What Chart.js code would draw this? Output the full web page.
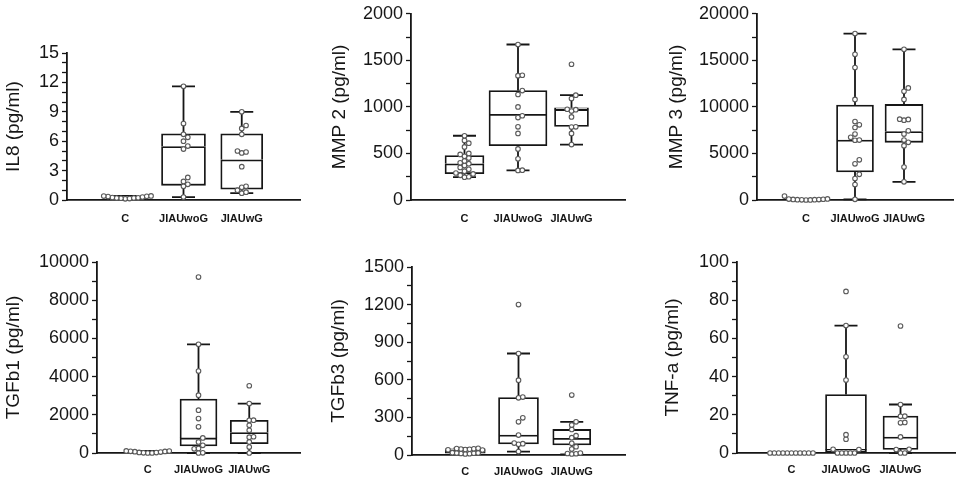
<!DOCTYPE html>
<html>
<head>
<meta charset="utf-8">
<script src="https://cdn.jsdelivr.net/npm/chart.js@4/dist/chart.umd.min.js"></script>
<style>
body{margin:0;background:#fff;width:965px;height:484px;position:relative;overflow:hidden}
canvas{position:absolute}
</style>
</head>
<body>
<canvas id="c1"></canvas>
<canvas id="c2"></canvas>
<canvas id="c3"></canvas>
<canvas id="c4"></canvas>
<canvas id="c5"></canvas>
<canvas id="c6"></canvas>
<script>
// groups on the x axis
const groups = ['C', 'JIAUwoG', 'JIAUwG'];

// box stats per group: [whisker low, q1, median, q3, whisker high]
// IL8
const il8C   = [0.12, 0.15, 0.18, 0.2, 0.22, 0.25, 0.3, 0.35, 0.38, 0.4, 0.42, 0.2];
const il8WoG = [11.6, 7.8, 6.7, 6.4, 6.0, 5.5, 5.2, 2.3, 1.9, 1.6, 1.4, 0.3];
const il8WG  = [9.0, 7.6, 7.3, 6.7, 5.0, 4.9, 4.8, 3.4, 1.4, 1.3, 1.0, 0.8, 0.7];
const il8Box = [[0.15, 0.2, 0.28, 0.38, 0.42], [0.3, 1.5, 5.45, 6.75, 11.6], [0.7, 1.1, 4.1, 6.75, 9.0]];

// MMP 2
const mmp2C   = [690, 640, 610, 570, 500, 490, 470, 450, 420, 400, 390, 370, 350, 330, 310, 290, 280, 265, 250, 245];
const mmp2WoG = [1670, 1340, 1335, 1175, 1133, 1000, 905, 885, 786, 715, 549, 442, 320, 318];
const mmp2WG  = [1458, 1126, 1090, 975, 970, 955, 892, 786, 784, 715, 595];
const mmp2Box = [[245, 283, 389, 478, 690], [318, 584, 920, 1175, 1670], [595, 789, 973, 991, 1126]];

// MMP 3
const mmp3C   = [0, 10, 20, 30, 40, 50, 60, 80, 100, 120, 420];
const mmp3WoG = [17880, 15650, 14230, 10800, 8420, 8070, 7790, 7080, 6730, 6440, 6420, 4320, 3890, 2760, 2300, 1660, 70];
const mmp3WG  = [16180, 12035, 11680, 10800, 8680, 8650, 8570, 7430, 7080, 6440, 6195, 5840, 3540, 1950];
const mmp3Box = [[0, 20, 50, 100, 120], [70, 3009, 6442, 10195, 17880], [1950, 6195, 7360, 10265, 16180]];

// TGFb1
const tgfb1C   = [0, 0, 10, 20, 30, 50, 70, 80, 90, 100, 110];
const tgfb1WoG = [9210, 5690, 4290, 3030, 2240, 1800, 1370, 790, 580, 400, 240, 220, 10, 0];
const tgfb1WG  = [3520, 2590, 1720, 1710, 1450, 1190, 850, 830, 580, 315, 0];
const tgfb1Box = [[0, 10, 50, 90, 110], [0, 368, 790, 2820, 5690], [0, 490, 1068, 1716, 2590]];

// TGFb3
const tgfb3C   = [8, 10, 12, 14, 15, 16, 18, 40, 42, 44, 46, 48, 50, 52, 54];
const tgfb3WoG = [1200, 810, 597, 462, 456, 297, 265, 159, 95, 90, 85, 27];
const tgfb3WG  = [478, 265, 239, 204, 154, 138, 93, 66, 48, 15, 12, 10, 8];
const tgfb3Box = [[8, 15, 42, 50, 54], [27, 88, 159, 459, 810], [5, 80, 133, 204, 265]];

// TNF-a
const tnfC   = [0, 0, 0, 0, 0, 0, 0, 0, 0, 0, 0];
const tnfWoG = [84.6, 66.7, 50.4, 38.2, 9.6, 7.2, 1.9, 1.8, 0, 0, 0, 0, 0];
const tnfWG  = [66.5, 25.4, 19.3, 19.2, 16, 15.8, 8.4, 1.9, 1.8, 0, 0];
const tnfBox = [[0, 0, 0, 0, 0], [0, 0.5, 1.9, 30.6, 66.7], [0, 1.9, 8.4, 19.3, 25.4]];

const ink = '#161616';
const fam = "'Liberation Sans', Arial, sans-serif";
const lw = 1.8;

// layout of each panel (canvas box + axis sizes), all in px
const panels = [
  {id:'c1', title:'IL8 (pg/ml)', max:15, major:3, minor:1, pts:[il8C, il8WoG, il8WG], box:il8Box,
   left:0, top:0, w:320, h:242, padTop:53, padRight:20, yW:67, xH:42, xPad:12, boxW:[40, 44, 42]},
  {id:'c2', title:'MMP 2 (pg/ml)', max:2000, major:500, minor:250, pts:[mmp2C, mmp2WoG, mmp2WG], box:mmp2Box,
   left:326, top:0, w:311, h:242, padTop:12, padRight:12, yW:85, xH:42, xPad:12, boxW:[39, 58, 34]},
  {id:'c3', title:'MMP 3 (pg/ml)', max:20000, major:5000, minor:2500, pts:[mmp3C, mmp3WoG, mmp3WG], box:mmp3Box,
   left:663, top:0, w:302, h:242, padTop:12, padRight:3, yW:94, xH:42, xPad:12, boxW:[40, 37, 38]},
  {id:'c4', title:'TGFb1 (pg/ml)', max:10000, major:2000, minor:1000, pts:[tgfb1C, tgfb1WoG, tgfb1WG], box:tgfb1Box,
   left:0, top:242, w:320, h:242, padTop:20, padRight:20, yW:97, xH:31, xPad:10, boxW:[40, 37, 38]},
  {id:'c5', title:'TGFb3 (pg/ml)', max:1500, major:300, minor:150, pts:[tgfb3C, tgfb3WoG, tgfb3WG], box:tgfb3Box,
   left:325, top:242, w:312, h:242, padTop:25, padRight:12, yW:87, xH:29, xPad:10, boxW:[40, 40, 38]},
  {id:'c6', title:'TNF-a (pg/ml)', max:100, major:20, minor:10, pts:[tnfC, tnfWoG, tnfWG], box:tnfBox,
   left:659, top:242, w:306, h:242, padTop:20, padRight:10, yW:78, xH:31, xPad:10, boxW:[40, 41, 35]}
];

// whiskers + caps, drawn under the boxes and points
function whiskerPlugin(p) {
  return {
    id: 'whiskers',
    beforeDatasetsDraw(chart) {
      const ctx = chart.ctx, xs = chart.scales.x, ys = chart.scales.y;
      ctx.save();
      ctx.strokeStyle = ink;
      ctx.lineWidth = lw;
      p.box.forEach((b, g) => {
        const cx = xs.getPixelForValue(g + 1);
        const yLo = ys.getPixelForValue(b[0]), yQ1 = ys.getPixelForValue(b[1]);
        const yQ3 = ys.getPixelForValue(b[3]), yHi = ys.getPixelForValue(b[4]);
        ctx.beginPath();
        if (b[0] < b[1]) {
          ctx.moveTo(cx, yLo); ctx.lineTo(cx, yQ1);
          ctx.moveTo(cx - 11.5, yLo); ctx.lineTo(cx + 11.5, yLo);
        }
        if (b[4] > b[3]) {
          ctx.moveTo(cx, yQ3); ctx.lineTo(cx, yHi);
          ctx.moveTo(cx - 11.5, yHi); ctx.lineTo(cx + 11.5, yHi);
        }
        ctx.stroke();
      });
      ctx.restore();
    }
  };
}

// simple beeswarm: spread points that sit at nearly the same height
function swarm(chart, p) {
  const xs = chart.scales.x, ys = chart.scales.y;
  const unit = xs.getPixelForValue(1) - xs.getPixelForValue(0);
  const gap = 4.3;
  p.pts.forEach((vals, g) => {
    const placed = [];
    const data = vals.slice().sort((a, b) => a - b).map(v => {
      const py = ys.getPixelForValue(v);
      let off = 0;
      for (let k = 0; k < 60; k++) {
        const cand = k === 0 ? 0 : (k % 2 ? 1 : -1) * Math.ceil(k / 2) * gap;
        if (placed.every(q => Math.hypot(q.off - cand, q.py - py) >= gap - 0.01)) { off = cand; break; }
      }
      placed.push({off: off, py: py});
      return {x: g + 1 + off / unit, y: v};
    });
    chart.data.datasets[6 + g].data = data;
  });
  chart.update('none');
}

function makePanel(p) {
  const cv = document.getElementById(p.id);
  cv.width = p.w; cv.height = p.h;
  cv.style.left = p.left + 'px'; cv.style.top = p.top + 'px';

  const datasets = [];
  p.box.forEach((b, g) => {
    const bar = {type:'bar', order:2, barThickness:p.boxW[g], grouped:false, backgroundColor:'#fff',
                 borderColor:ink, borderSkipped:false};
    // lower half carries the median line on its top edge
    datasets.push(Object.assign({data:[{x:g + 1, y:[b[1], b[2]]}],
      borderWidth:{top:lw, bottom:lw, left:lw, right:lw}}, bar));
    datasets.push(Object.assign({data:[{x:g + 1, y:[b[2], b[3]]}],
      borderWidth:{top:lw, bottom:0, left:lw, right:lw}}, bar));
  });
  p.pts.forEach((vals, g) => {
    datasets.push({type:'scatter', order:1, data: vals.map(v => ({x:g + 1, y:v})), pointRadius:2.3,
      pointBackgroundColor:'#fff', pointBorderColor:'#5a5a5a', pointBorderWidth:1.1, clip:false});
  });

  const chart = new Chart(cv, {
    type: 'bar',
    data: {datasets: datasets},
    plugins: [whiskerPlugin(p)],
    options: {
      responsive: false,
      animation: false,
      layout: {padding: {top:p.padTop, right:p.padRight, left:0, bottom:0}},
      plugins: {legend:{display:false}, tooltip:{enabled:false}},
      scales: {
        x: {
          type:'linear', min:0, max:4, offset:false,
          border:{display:true, color:ink, width:lw},
          grid:{display:false, drawTicks:false},
          ticks:{stepSize:1, autoSkip:false, maxRotation:0, padding:p.xPad, color:ink,
                 font:{family:fam, size:11, weight:'bold'},
                 callback: v => groups[v - 1] || ''},
          afterFit: s => { s.height = p.xH; }
        },
        y: {
          min:0, max:p.max,
          border:{display:true, color:ink, width:lw},
          grid:{display:true, drawOnChartArea:false, drawTicks:true, tickLength:5, tickColor:ink, tickWidth:1.3},
          ticks:{stepSize:p.minor, autoSkip:false, padding:3, color:ink,
                 font:{family:fam, size:18},
                 callback: v => (v % p.major === 0 ? String(v) : '')},
          title:{display:true, text:p.title, color:ink, font:{family:fam, size:19}, padding:{top:2, bottom:0}},
          afterFit: s => { s.width = p.yW; }
        }
      }
    }
  });
  swarm(chart, p);
}

panels.forEach(makePanel);
</script>
</body>
</html>
